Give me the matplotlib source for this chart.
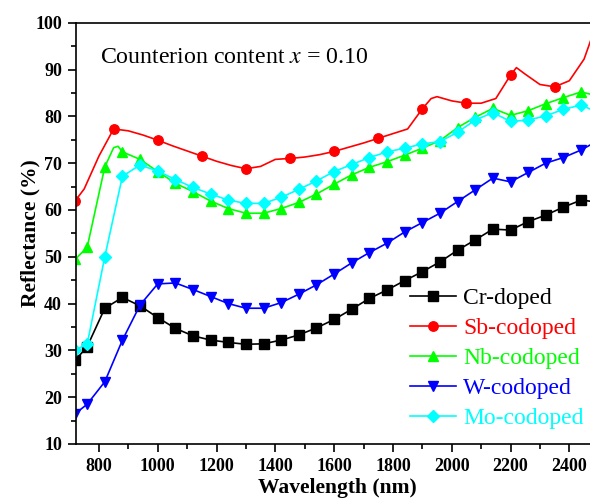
import numpy as np
import matplotlib
matplotlib.use("Agg")
import matplotlib.pyplot as plt
from matplotlib.ticker import MultipleLocator

plt.rcParams["font.family"] = ["Liberation Serif", "DejaVu Serif"]
plt.rcParams["mathtext.fontset"] = "stix"

# wavelength grid (nm) shared by Cr, W, Mo curves
wl = [720, 760, 820, 880, 940, 1000, 1060, 1120, 1180, 1240, 1300, 1360, 1420,
      1480, 1540, 1600, 1660, 1720, 1780, 1840, 1900, 1960, 2020, 2080, 2140,
      2200, 2260, 2320, 2380, 2440, 2480]

cr_doped = [27.9, 30.8, 39.0, 41.3, 39.5, 37.0, 34.7, 33.1, 32.2, 31.7, 31.3,
            31.4, 32.2, 33.3, 34.8, 36.6, 38.8, 41.1, 42.9, 44.9, 46.8, 48.9,
            51.4, 53.6, 55.9, 55.7, 57.5, 58.9, 60.6, 62.1, 61.8]

w_codoped = [16.5, 18.5, 23.3, 32.2, 39.7, 44.2, 44.4, 43.0, 41.5, 40.0, 39.0,
             39.0, 40.2, 42.0, 44.0, 46.3, 48.7, 50.9, 52.9, 55.3, 57.3, 59.3,
             61.8, 64.3, 66.8, 66.0, 68.0, 70.0, 71.2, 72.8, 74.2]

mo_codoped = [30.1, 31.3, 50.0, 67.2, 69.6, 68.3, 66.5, 64.8, 63.4, 62.1, 61.4,
              61.4, 62.7, 64.4, 66.2, 68.2, 69.7, 71.2, 72.4, 73.2, 74.1, 74.6,
              76.6, 79.2, 80.8, 78.9, 79.2, 80.1, 81.5, 82.4, 81.3]

# Nb curve has a sharp peak near 860 nm
wl_nb = [720, 760, 820, 850, 865, 880, 940, 1000, 1060, 1120, 1180, 1240, 1300,
         1360, 1420, 1480, 1540, 1600, 1660, 1720, 1780, 1840, 1900, 1960, 2020,
         2080, 2140, 2200, 2260, 2320, 2380, 2440, 2480]
nb_codoped = [49.5, 52.0, 69.2, 73.3, 73.6, 72.4, 70.8, 68.2, 65.7, 63.9, 61.9,
              60.3, 59.3, 59.3, 60.3, 61.6, 63.4, 65.5, 67.5, 69.1, 70.3, 71.7,
              73.2, 74.8, 77.6, 79.8, 81.7, 80.2, 81.2, 82.7, 84.0, 85.2, 84.6]

wl_sb = [720, 750, 800, 850, 900, 950, 1000, 1050, 1100, 1150, 1200, 1250, 1300,
         1350, 1400, 1450, 1500, 1550, 1600, 1650, 1700, 1750, 1800, 1850, 1900,
         1930, 1950, 2000, 2050, 2100, 2150, 2200, 2220, 2250, 2300, 2350, 2400,
         2450, 2480]
sb_codoped = [62.0, 64.5, 71.5, 77.3, 76.9, 76.0, 74.9, 73.7, 72.6, 71.5, 70.4,
              69.5, 68.8, 69.3, 70.8, 71.0, 71.3, 71.8, 72.5, 73.4, 74.3, 75.3,
              76.3, 77.3, 81.6, 83.8, 84.2, 83.3, 82.8, 82.8, 83.8, 88.8, 90.4,
              89.0, 86.8, 86.3, 87.6, 92.2, 97.5]

marker_wl = [720, 760] + list(range(820, 2441, 60))
sb_marker_wl = [720] + list(range(850, 2351, 150))


def main():
    fig = plt.figure(figsize=(5.9, 5.01), dpi=100)
    # axes run a little past the right edge (picture is cropped there)
    ax = fig.add_axes([0.1288, 0.1138, 0.886, 0.8409])

    series = [
        (wl, cr_doped, "black", "s", "Cr-doped", marker_wl),
        (wl_sb, sb_codoped, "#FF0000", "o", "Sb-codoped", sb_marker_wl),
        (wl_nb, nb_codoped, "#00FF00", "^", "Nb-codoped", marker_wl),
        (wl, w_codoped, "#0000FF", "v", "W-codoped", marker_wl),
        (wl, mo_codoped, "#00FFFF", "D", "Mo-codoped", marker_wl),
    ]

    for x, y, color, mk, label, mwl in series:
        mask = list(np.isin(x, mwl))
        ms = 5.8 if mk == "D" else 6.8
        ax.plot(x, y, color=color, lw=1.2, marker=mk, ms=ms,
                markevery=mask, label=label)

    ax.set_xlim(722, 2500)
    ax.set_ylim(10, 100)
    ax.xaxis.set_major_locator(MultipleLocator(200))
    ax.xaxis.set_minor_locator(MultipleLocator(100))
    ax.yaxis.set_major_locator(MultipleLocator(10))
    ax.yaxis.set_minor_locator(MultipleLocator(5))

    ax.tick_params(which="major", direction="out", length=6, width=1.2,
                   labelsize=13, pad=4)
    ax.tick_params(which="minor", direction="out", length=3.5, width=1.2)
    for lab in ax.get_xticklabels() + ax.get_yticklabels():
        lab.set_fontweight("bold")

    for s in ax.spines.values():
        s.set_linewidth(1.2)
    ax.spines["right"].set_visible(False)

    ax.set_xlabel("Wavelength (nm)", fontsize=15.5, fontweight="bold", labelpad=2)
    ax.set_ylabel("Reflectance (%)", fontsize=15.5, fontweight="bold", labelpad=-4)

    ax.text(0.046, 0.904, r"Counterion content $x$ = 0.10", transform=ax.transAxes,
            fontsize=17.2, va="baseline", ha="left")

    ax.legend(loc="upper left", bbox_to_anchor=(0.638, 0.371), frameon=False,
              fontsize=17, labelcolor="linecolor", handlelength=1.95,
              handletextpad=0.32, labelspacing=0.36, borderpad=0,
              borderaxespad=0)

    fig.savefig("out.png", dpi=100)
    plt.close(fig)


if __name__ == "__main__":
    main()
